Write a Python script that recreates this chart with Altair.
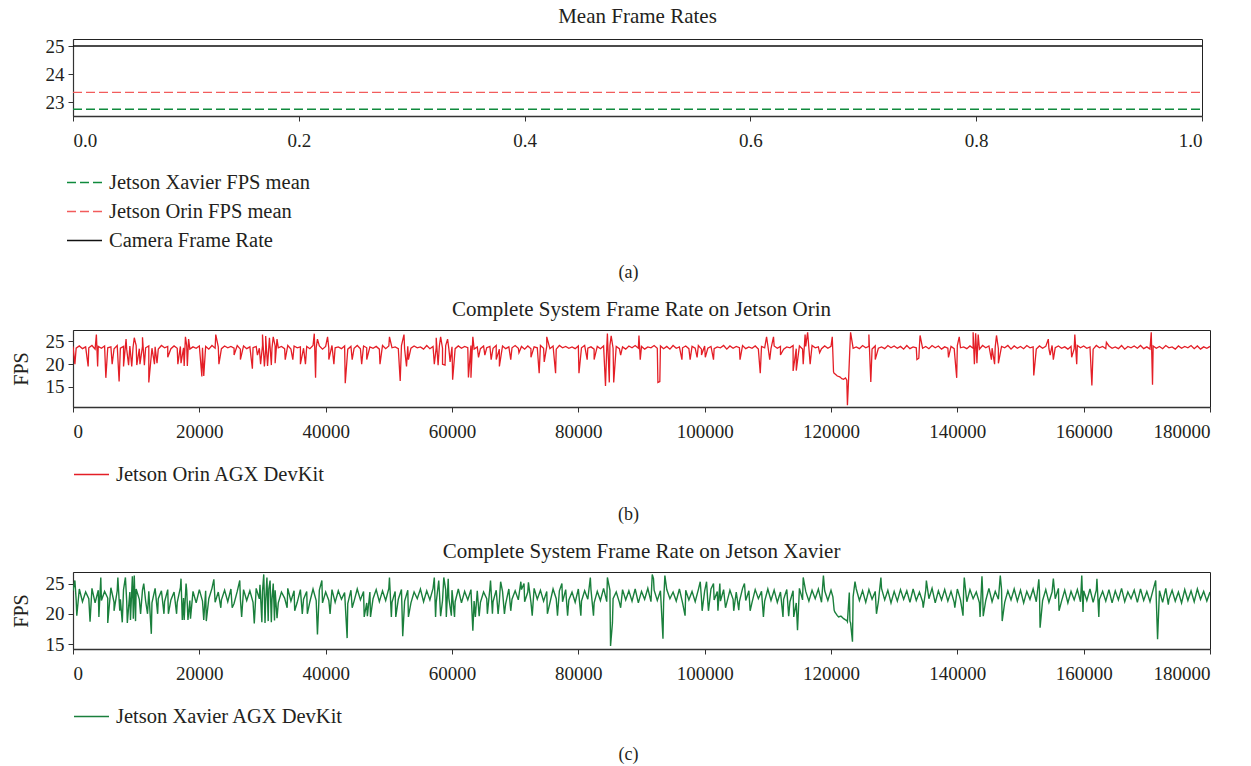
import altair as alt
import pandas as pd

FONT = "Liberation Serif"
TEXT = "#231f20"
AXIS = "#333333"

# ---------------- Panel (a): mean frame rates ----------------
mean_series = ["Jetson Xavier FPS mean", "Jetson Orin FPS mean", "Camera Frame Rate"]
mean_fps = [22.75, 23.35, 25.0]
mean_x_start = [0.0, 0.0, 0.0]
mean_x_end = [1.0, 1.0, 1.0]
mean_colors = ["#0f8a3c", "#f25c5c", "#111111"]
mean_dashes = [[9, 4], [9, 4], [1, 0]]
a_ticks_x = [0.0, 0.2, 0.4, 0.6, 0.8, 1.0]
a_ticks_y = [23, 24, 25]

# ---------------- Panels (b) and (c) ----------------
frame_ticks = [0, 20000, 40000, 60000, 80000, 100000, 120000, 140000, 160000, 180000]
fps_ticks = [15, 20, 25]

# Jetson Orin, frames 0, 1000, ..., 180000 (upper edge of the noise band)
orin_base = [
    23.9, 24.0, 23.8, 24.1, 23.9, 24.0, 23.8, 24.1, 23.9, 24.0,
    24.1, 23.9, 24.0, 23.8, 24.1, 23.9, 24.0, 23.9, 24.1, 23.8,
    24.0, 23.9, 24.1, 23.8, 24.0, 23.9, 24.1, 24.0, 23.8, 23.9,
    24.1, 23.8, 24.0, 23.9, 24.1, 24.0, 23.8, 23.9, 24.1, 24.0,
    23.9, 24.1, 23.8, 24.0, 23.9, 24.1, 24.0, 23.8, 23.9, 24.1,
    24.0, 23.8, 24.1, 23.9, 24.0, 23.8, 24.1, 23.9, 24.0, 24.1,
    23.8, 24.0, 23.9, 24.1, 23.8, 24.0, 23.9, 24.1, 24.0, 23.8,
    24.1, 23.9, 24.0, 23.8, 24.1, 23.9, 24.0, 24.1, 23.9, 23.8,
    24.0, 24.1, 23.8, 23.9, 24.0, 24.1, 23.9, 23.8, 24.0, 24.1,
    23.9, 23.8, 24.1, 24.0, 23.9, 24.1, 23.8, 24.0, 23.9, 24.1,
    24.0, 23.9, 23.8, 24.1, 24.0, 23.9, 24.1, 23.8, 24.0, 23.9,
    24.1, 24.0, 23.9, 23.8, 24.1, 24.0, 23.9, 24.1, 23.8, 24.0,
    23.9, 17.4, 16.7, 24.0, 23.8, 24.1, 23.9, 24.0, 23.8, 24.1,
    24.0, 23.9, 24.1, 23.8, 24.0, 23.9, 24.1, 24.0, 23.8, 23.9,
    24.1, 23.8, 24.0, 23.9, 24.1, 24.0, 23.8, 23.9, 24.1, 24.0,
    23.9, 24.1, 23.8, 24.0, 23.9, 24.1, 24.0, 23.8, 23.9, 24.1,
    24.0, 23.8, 24.1, 23.9, 24.0, 23.8, 24.1, 23.9, 24.0, 24.1,
    23.8, 24.0, 23.9, 24.1, 23.8, 24.0, 23.9, 24.1, 24.0, 23.8,
    23.9,
]
# Jetson Orin, frames 500, 1500, ..., 179500 (lower edge of the noise band)
orin_half = [
    23.5, 23.4, 23.6, 23.3, 23.5, 23.6, 23.4, 23.5, 23.3, 23.6,
    23.4, 23.6, 23.5, 23.3, 23.6, 23.4, 23.5, 23.6, 23.3, 23.5,
    23.6, 23.3, 23.5, 23.4, 23.6, 23.5, 23.3, 23.4, 23.6, 23.5,
    23.3, 23.5, 23.6, 23.4, 23.3, 23.6, 23.5, 23.4, 23.6, 23.3,
    23.5, 23.6, 23.4, 23.3, 23.5, 23.4, 23.6, 23.5, 23.3, 23.4,
    23.6, 23.4, 23.3, 23.5, 23.6, 23.3, 23.4, 23.6, 23.5, 23.4,
    23.4, 23.5, 23.6, 23.3, 23.4, 23.6, 23.5, 23.3, 23.4, 23.6,
    23.5, 23.3, 23.4, 23.6, 23.5, 23.4, 23.3, 23.6, 23.5, 23.4,
    23.6, 23.5, 23.3, 23.4, 23.6, 23.5, 23.4, 23.3, 23.6, 23.5,
    23.3, 23.6, 23.5, 23.4, 23.3, 23.5, 23.6, 23.4, 23.5, 23.3,
    23.5, 23.4, 23.6, 23.3, 23.5, 23.6, 23.4, 23.5, 23.3, 23.6,
    23.4, 23.5, 23.3, 23.6, 23.4, 23.3, 23.5, 23.6, 23.4, 23.5,
    18.0, 17.1, 16.5, 23.5, 23.4, 23.6, 23.3, 23.5, 23.4, 23.6,
    23.5, 23.3, 23.4, 23.6, 23.5, 23.4, 23.6, 23.3, 23.5, 23.4,
    23.6, 23.4, 23.5, 23.3, 23.6, 23.5, 23.4, 23.6, 23.3, 23.5,
    23.4, 23.6, 23.3, 23.5, 23.4, 23.6, 23.5, 23.3, 23.4, 23.6,
    23.5, 23.3, 23.6, 23.4, 23.5, 23.4, 23.3, 23.6, 23.5, 23.4,
    23.3, 23.5, 23.4, 23.6, 23.3, 23.5, 23.6, 23.4, 23.3, 23.5,
]
# Jetson Orin, individual spikes and drops
orin_event_frame = [
    300, 2400, 3700, 3900, 5200, 6200, 7300, 8000, 8400, 8800, 9300, 9700,
    10100, 10600, 11000, 11300, 12000, 12900, 13300, 15000, 16600, 17100, 17600, 17800, 18100, 18300,
    20400, 20700, 22600, 23100, 25500, 26500, 28400, 29200, 29700,
    30000, 30300, 30500, 30800, 31100, 31400, 31700, 32000, 32300, 33600, 34800, 36000, 36800, 38200, 38400, 38700,
    40300, 40500, 41300, 43100, 44200, 45700, 46500, 48600,
    50100, 51800, 52400, 52800, 53100, 57200, 57500, 57800, 58200, 58500, 58900, 59300, 59700,
    60100, 62600, 63000, 63300, 64200, 65200, 66200, 67000, 67500, 69300,
    70600, 72500, 73800, 74600, 75000, 76400,
    80100, 81400, 82500, 84300, 84600, 84900, 85200, 85600, 86700, 89600, 89800,
    92600, 92900, 96400, 97700, 98800, 99500,
    100100, 101400, 105600, 108800, 109800,
    110300, 110900, 112000, 114000, 114500, 115600, 115900, 116300, 116700, 118200,
    120200, 120400, 120700, 121400, 121700, 122300, 122600, 122800, 123100,
    126000, 126300, 127000,
    133600, 133900, 134100, 138600, 139900, 140300,
    142500, 142700, 142900, 143100, 143300, 145400, 145900, 146200, 146500,
    152100, 154400, 154700, 155200, 158100, 158600, 158900,
    161300, 163600, 170700, 170900,
]
orin_event_fps = [
    20.0, 19.5, 26.5, 19.5, 17.0, 20.0, 16.2, 19.5, 25.5, 19.8, 19.5, 25.8,
    19.8, 20.0, 25.9, 19.8, 16.0, 20.0, 20.2, 21.5, 20.0, 20.2, 19.6, 26.0, 19.6, 25.5,
    17.3, 17.4, 26.5, 20.0, 22.0, 21.0, 19.0, 22.0, 20.0,
    26.5, 19.5, 26.2, 19.6, 25.8, 19.8, 26.0, 20.2, 25.5, 21.0, 21.0, 20.0, 20.0, 26.7, 17.0, 25.5,
    26.0, 21.0, 20.0, 15.8, 21.0, 20.0, 21.0, 20.0,
    26.0, 16.3, 26.5, 19.5, 21.0, 20.0, 25.8, 19.8, 26.0, 20.0, 19.8, 25.5, 20.5,
    16.6, 17.1, 17.0, 26.0, 21.5, 22.0, 21.0, 21.0, 19.5, 21.0,
    22.5, 21.5, 18.0, 20.5, 26.0, 18.0,
    18.0, 21.0, 21.0, 15.2, 26.7, 16.0, 26.2, 16.0, 22.0, 26.3, 21.0,
    16.0, 16.2, 21.0, 21.0, 21.5, 22.0,
    21.5, 21.0, 21.0, 18.0, 26.0,
    21.0, 26.0, 22.0, 18.5, 18.6, 20.0, 26.5, 27.0, 20.0, 22.5,
    26.0, 18.3, 17.8, 17.2, 16.8, 17.0, 11.0, 17.2, 27.0,
    26.5, 16.1, 21.0,
    21.0, 21.3, 26.3, 21.5, 17.0, 26.0,
    27.0, 20.0, 26.8, 20.2, 26.5, 21.0, 20.0, 26.3, 20.2,
    17.5, 25.5, 22.0, 21.0, 21.5, 26.5, 20.0,
    15.3, 24.8, 27.0, 15.5,
]

# Jetson Xavier, frames 0, 1000, ..., 180000 (upper edge of the noise band)
xavier_base = [
    23.8, 24.1, 23.6, 24.2, 23.9, 23.7, 24.3, 23.8, 24.0, 23.6,
    24.1, 23.9, 23.7, 24.2, 23.8, 24.0, 23.6, 24.3, 23.9, 23.7,
    24.0, 23.8, 24.2, 23.6, 23.9, 24.1, 23.7, 24.0, 23.8, 24.2,
    23.7, 24.1, 23.9, 23.6, 24.2, 23.8, 24.0, 23.7, 24.1, 23.9,
    23.6, 24.0, 23.8, 23.5, 23.9, 24.1, 23.7, 23.6, 24.0, 23.8,
    24.2, 23.7, 24.0, 23.9, 23.6, 24.1, 23.8, 24.2, 23.7, 24.0,
    23.9, 24.1, 23.7, 24.0, 23.8, 23.6, 24.2, 23.9, 23.7, 24.1,
    23.8, 24.0, 23.6, 24.2, 23.9, 23.7, 24.1, 23.8, 24.0, 23.6,
    24.1, 23.8, 24.0, 23.7, 24.2, 23.9, 23.6, 24.0, 23.8, 24.1,
    23.7, 24.2, 23.9, 23.8, 24.0, 23.6, 24.1, 23.9, 23.7, 24.0,
    23.8, 24.1, 23.7, 24.0, 23.9, 23.6, 24.2, 23.8, 24.0, 23.7,
    24.1, 23.9, 23.6, 24.0, 23.8, 24.2, 23.7, 23.9, 24.1, 23.8,
    23.9, 19.7, 19.2, 18.8, 24.1, 23.8, 24.0, 23.7, 24.2, 23.9,
    23.7, 24.0, 23.8, 24.1, 23.6, 23.9, 24.2, 23.8, 24.0, 23.7,
    24.1, 23.8, 24.0, 23.6, 23.9, 24.2, 23.7, 24.0, 23.8, 24.1,
    23.9, 23.7, 24.1, 23.8, 24.0, 23.6, 24.2, 23.9, 23.7, 24.0,
    23.8, 24.1, 23.9, 23.7, 24.0, 23.8, 24.2, 23.6, 23.9, 24.1,
    23.7, 24.0, 23.8, 24.2, 23.9, 23.6, 24.0, 23.8, 24.1, 23.7,
    23.6,
]
# Jetson Xavier, frames 500, 1500, ..., 179500 (lower edge of the noise band)
xavier_half = [
    22.3, 22.0, 22.5, 21.8, 22.2, 22.6, 21.9, 22.4, 22.1, 21.7,
    22.4, 22.1, 21.8, 22.5, 22.0, 22.3, 21.9, 22.6, 22.2, 21.8,
    22.1, 22.5, 21.9, 22.3, 22.0, 21.7, 22.4, 22.2, 21.9, 22.5,
    22.0, 22.3, 21.8, 22.6, 22.1, 21.9, 22.4, 22.0, 22.2, 21.8,
    22.2, 21.9, 22.4, 21.7, 22.1, 22.3, 21.8, 22.5, 22.0, 22.2,
    21.9, 22.4, 22.1, 21.8, 22.5, 22.0, 22.3, 21.9, 22.2, 22.6,
    22.0, 21.8, 22.3, 22.1, 21.9, 22.5, 22.0, 22.2, 21.7, 22.4,
    22.3, 22.0, 21.9, 22.4, 22.1, 21.8, 22.5, 22.0, 22.3, 21.9,
    22.1, 22.4, 21.8, 22.2, 22.0, 22.5, 21.9, 22.3, 22.1, 21.8,
    22.4, 22.0, 22.2, 21.9, 22.5, 22.1, 21.8, 22.3, 22.0, 22.4,
    21.9, 22.3, 22.1, 21.8, 22.4, 22.0, 22.2, 21.9, 22.5, 22.1,
    22.2, 21.9, 22.4, 22.0, 21.8, 22.3, 22.1, 22.5, 21.9, 22.2,
    20.6, 19.6, 18.9, 22.8, 22.2, 21.9, 22.4, 22.0, 22.3, 21.8,
    22.1, 22.4, 21.9, 22.2, 22.0, 22.5, 21.8, 22.3, 22.1, 21.9,
    22.3, 22.0, 22.5, 21.8, 22.2, 22.0, 22.4, 21.9, 22.3, 22.1,
    21.8, 22.4, 22.0, 22.2, 21.9, 22.5, 22.1, 21.8, 22.3, 22.0,
    22.2, 21.9, 22.4, 22.1, 21.8, 22.3, 22.0, 22.5, 21.9, 22.2,
    22.0, 22.3, 21.9, 22.4, 22.1, 21.8, 22.2, 22.0, 22.4, 22.1,
]
# Jetson Xavier, individual spikes and drops
xavier_event_frame = [
    300, 600, 2700, 4100, 4400, 5500, 6500, 7100, 7400, 7800, 8300, 8600, 9100, 9400, 9550, 9700, 9900,
    10700, 11200, 11800, 12400, 13400, 14400, 15100, 16400, 17100, 17300, 17600, 17900, 18200, 18600,
    20700, 21100, 22300, 23400, 25200, 26400, 26700, 28700, 29600,
    29900, 30200, 30400, 30700, 30900, 31200, 31400, 31700, 31900, 32300, 33900, 35100, 36300, 37100, 38700, 39400,
    40700, 43400, 44200, 46100, 46600, 47100,
    50100, 50400, 51100, 52200, 53100, 57200, 57400, 57900, 58200, 58700, 59100, 59400, 59900,
    60400, 63300, 63700, 64300, 65600, 66100, 66400, 67300, 67700, 68300, 69300,
    70900, 71400, 72100, 72700, 75100, 76700, 77400, 78300,
    80400, 81900, 82400, 84600, 85100, 85400, 86700,
    91700, 91900, 93400, 93700, 96900, 99300, 99600,
    100300, 100600, 101400, 102100, 102400, 103300, 104600, 105400, 106300, 107200, 109300,
    112400, 113300, 114100, 114700, 115600, 118800,
    120300, 120600, 121200, 121600, 122300, 122600, 122900, 123100, 123400, 123800,
    127200, 127900,
    134600, 135100, 139600,
    140900, 141100, 143600, 143900, 144100, 146800, 147100,
    152900, 153100, 155200, 156100, 159700, 159900,
    162100, 162400,
    171400, 171700, 173400,
]
xavier_event_fps = [
    25.5, 19.7, 18.7, 19.5, 26.0, 18.5, 20.5, 26.0, 20.5, 18.6, 26.0, 18.5, 19.0, 26.2, 19.2, 26.3, 18.8,
    20.0, 25.0, 20.0, 16.7, 20.0, 20.0, 20.0, 20.0, 25.8, 19.0, 19.0, 25.0, 19.0, 19.2,
    19.0, 18.8, 25.7, 21.0, 21.0, 25.5, 19.5, 18.4, 24.8,
    18.6, 26.5, 18.5, 26.0, 18.8, 25.5, 18.6, 25.0, 18.9, 19.3, 21.0, 20.5, 20.0, 20.0, 16.6, 25.5,
    20.0, 16.0, 21.0, 19.5, 19.6, 19.5,
    26.0, 19.5, 19.5, 16.3, 19.5, 26.0, 19.5, 25.5, 19.6, 26.0, 19.5, 25.8, 19.7,
    19.5, 17.2, 19.5, 19.6, 20.0, 25.5, 20.0, 20.0, 25.3, 20.0, 20.5,
    25.3, 25.0, 25.2, 19.7, 20.0, 19.7, 25.0, 19.7,
    19.7, 26.0, 19.7, 26.0, 14.7, 18.5, 21.0,
    26.5, 25.8, 15.9, 26.3, 19.7, 25.3, 20.5,
    25.3, 20.5, 25.0, 20.5, 25.0, 21.0, 20.5, 20.6, 25.0, 20.5, 19.5,
    19.5, 19.6, 19.5, 17.3, 26.0, 26.3,
    22.8, 20.3, 19.5, 19.6, 19.0, 18.7, 23.5, 18.5, 15.4, 25.3,
    20.0, 26.0,
    21.0, 25.5, 21.0,
    19.7, 26.0, 19.5, 26.2, 19.6, 26.3, 18.8,
    25.7, 17.7, 25.8, 20.5, 26.3, 20.3,
    25.8, 19.5,
    25.5, 15.8, 21.5,
]

base_frames = list(range(0, 180001, 1000))
half_frames = list(range(500, 180000, 1000))


def series_frame(name, base, half, ev_x, ev_y):
    df = pd.DataFrame({
        "frame": base_frames + half_frames + ev_x,
        "fps": base + half + ev_y,
    })
    df["series"] = name
    return df.sort_values("frame", kind="stable").reset_index(drop=True)


orin_df = series_frame("Jetson Orin AGX DevKit", orin_base, orin_half,
                       orin_event_frame, orin_event_fps)
xavier_df = series_frame("Jetson Xavier AGX DevKit", xavier_base, xavier_half,
                         xavier_event_frame, xavier_event_fps)
mean_df = pd.DataFrame({"series": mean_series, "fps": mean_fps,
                        "x0": mean_x_start, "x1": mean_x_end})


def make_legend(x, y):
    return alt.Legend(
        title=None, orient="none", legendX=x, legendY=y, direction="vertical",
        symbolType="stroke", symbolSize=1225, symbolStrokeWidth=1.5,
        labelFont=FONT, labelFontSize=20.5, labelColor=TEXT, labelOffset=6,
        labelLimit=0, rowPadding=-7, padding=0,
    )


def x_axis(values, fmt, caption, pad, cap_x):
    return alt.Axis(
        values=values, format=fmt, title=caption, grid=False,
        labelFont=FONT, labelFontSize=19, labelColor=TEXT, labelPadding=10,
        tickSize=5, tickColor=AXIS, domainColor=AXIS, domainWidth=1.5,
        titleFont=FONT, titleFontSize=18, titleFontWeight="normal", titleColor=TEXT,
        titlePadding=pad, titleX=cap_x, titleAlign="center",
    )


def y_axis(values, title):
    kw = dict(
        values=values, grid=False,
        labelFont=FONT, labelFontSize=19, labelColor=TEXT, labelPadding=4,
        tickSize=5, tickColor=AXIS, domainColor=AXIS, domainWidth=1.2,
        minExtent=34, maxExtent=34,
    )
    if title:
        kw.update(title=title, titleFont=FONT, titleFontSize=20, titleFontWeight="normal",
                  titleColor=TEXT, titlePadding=8)
    else:
        kw.update(title=None)
    return alt.Axis(**kw)


def panel_title(text):
    return alt.TitleParams(text, font=FONT, fontSize=21, fontWeight="normal",
                           color=TEXT, offset=10, anchor="middle")


chart_a = alt.Chart(mean_df).mark_rule(strokeWidth=1.4).encode(
    x=alt.X("x0:Q", scale=alt.Scale(domain=[0, 1], nice=False, zero=False),
            axis=x_axis(a_ticks_x, ".1f", "(a)", 113, 555)),
    x2="x1:Q",
    y=alt.Y("fps:Q", scale=alt.Scale(domain=[22.51, 25.25], nice=False, zero=False),
            axis=y_axis(a_ticks_y, None)),
    color=alt.Color("series:N", scale=alt.Scale(domain=mean_series, range=mean_colors),
                    legend=make_legend(-7, 125)),
    strokeDash=alt.StrokeDash("series:N", scale=alt.Scale(domain=mean_series, range=mean_dashes),
                              legend=make_legend(-7, 125)),
).properties(width=1129, height=77, title=panel_title("Mean Frame Rates"))


def fps_panel(df, color, width_px, title, domain, caption, cap_pad):
    return alt.Chart(df).mark_line(strokeWidth=width_px, clip=True).encode(
        x=alt.X("frame:Q", scale=alt.Scale(domain=[0, 180000], nice=False, zero=False),
                axis=x_axis(frame_ticks, "d", caption, cap_pad, 555)),
        y=alt.Y("fps:Q", scale=alt.Scale(domain=domain, nice=False, zero=False),
                axis=y_axis(fps_ticks, "FPS")),
        color=alt.Color("series:N", scale=alt.Scale(range=[color]), legend=make_legend(0, 126)),
    ).properties(width=1137, height=77, title=panel_title(title))


chart_b = fps_panel(orin_df, "#e41e26", 1.3, "Complete System Frame Rate on Jetson Orin",
                    [10.6, 27.5], "(b)", 64)
chart_c = fps_panel(xavier_df, "#1a7f3c", 1.4, "Complete System Frame Rate on Jetson Xavier",
                    [14.2, 26.9], "(c)", 62)

chart = alt.vconcat(chart_a, chart_b, chart_c, spacing=16).resolve_scale(
    color="independent", strokeDash="independent"
).resolve_legend(color="independent", strokeDash="independent").configure_view(
    stroke="#222222", strokeWidth=1
).properties(
    padding={"left": 10, "top": 5, "right": 5, "bottom": 2},
    background="white",
)

chart.save("out.html", embed_options={"renderer": "svg", "actions": False})
